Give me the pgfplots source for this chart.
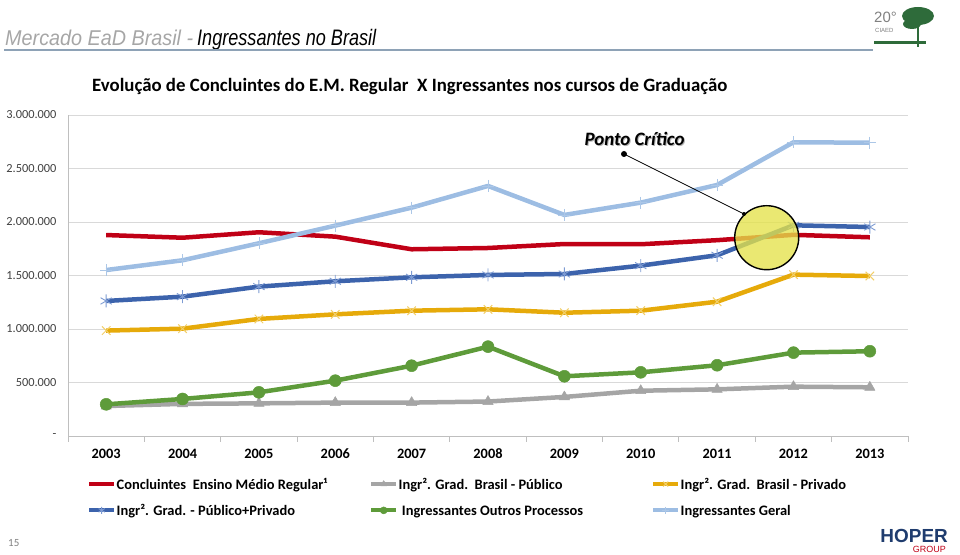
\documentclass[border=0pt]{standalone}
\usepackage{pgfplots}
\pgfplotsset{compat=1.18}
\usepackage{graphicx}
\usepackage{fontspec}
\setmainfont{Carlito}
\newfontfamily\arialf{Liberation Sans}
\definecolor{cRed}{HTML}{C00016}
\definecolor{cGray}{HTML}{A5A5A5}
\definecolor{cYel}{HTML}{E6AA0A}
\definecolor{cYelL}{HTML}{F2CF6A}
\definecolor{cBlue}{HTML}{3C63AC}
\definecolor{cBlueL}{HTML}{7D9BD3}
\definecolor{cGreen}{HTML}{5E9B3A}
\definecolor{cLBlue}{HTML}{9DBDE3}
\definecolor{gridgray}{HTML}{D9D9D9}
\definecolor{axgray}{HTML}{BFBFBF}
\definecolor{tickgray}{HTML}{404040}
\definecolor{hdrgray}{HTML}{A6A6A6}
\definecolor{hdrline}{HTML}{8EA2B6}
\definecolor{callY}{HTML}{E4E24A}
\definecolor{logoG}{HTML}{2E6B3A}
\definecolor{hoper}{HTML}{1F3C6E}

\begin{document}
\begin{tikzpicture}[x=1bp,y=1bp]
\useasboundingbox (0,0) rectangle (960,555);

% header
\node[anchor=base west, inner sep=0, font=\arialf\itshape\fontsize{21.5}{24}\selectfont, text=hdrgray]
  at (5,555-46) {\resizebox{188bp}{\height}{Mercado EaD Brasil -}};
\node[anchor=base west, inner sep=0, font=\arialf\itshape\fontsize{22.5}{24}\selectfont]
  at (197,555-46) {\resizebox{179bp}{\height}{Ingressantes no Brasil}};
\draw[hdrline, line width=1.2bp] (4,555-50) -- (873,555-50);
\node[anchor=base west, inner sep=0, font=\bfseries\fontsize{18.9}{21}\selectfont]
  at (92,555-92) {Evolução de Concluintes do E.M. Regular\ \ X Ingressantes nos cursos de Graduação};

% logo (approximation)
\node[anchor=west, inner sep=0, font=\arialf\fontsize{15}{16}\selectfont, text=gray] at (874,555-17) {20°};
\node[anchor=west, inner sep=0, font=\arialf\fontsize{6}{7}\selectfont, text=gray] at (875,555-30) {CIAED};
\fill[logoG] (918,555-16) ellipse (16 and 9);
\fill[logoG] (912,555-24) ellipse (9 and 5);
\draw[logoG, line width=2bp] (918,555-20) -- (918,555-47);
\fill[logoG] (874,555-41) rectangle (926,555-44);

% footer
\node[anchor=west, inner sep=0, font=\fontsize{11}{12}\selectfont, text=gray] at (8,555-543) {15};
\node[anchor=east, inner sep=0, font=\arialf\bfseries\fontsize{19}{20}\selectfont, text=hoper] at (948,555-536) {HOPER};
\node[anchor=east, inner sep=0, font=\arialf\fontsize{9}{10}\selectfont, text=cRed] at (946,555-549) {GROUP};

\begin{axis}[
  at={(68bp,119bp)}, anchor=south west,
  scale only axis, width=840bp, height=321bp,
  xmin=-0.5, xmax=10.5, ymin=0, ymax=3000000,
  axis lines=left,
  axis line style={-, draw=axgray, line width=0.9bp},
  scaled y ticks=false,
  ytick={0,500000,1000000,1500000,2000000,2500000,3000000},
  yticklabels={-,500.000,1.000.000,1.500.000,2.000.000,2.500.000,3.000.000},
  ymajorgrids, grid style={draw=gridgray, line width=0.9bp},
  xtick={0,1,2,3,4,5,6,7,8,9,10},
  xticklabels={2003,2004,2005,2006,2007,2008,2009,2010,2011,2012,2013},
  minor xtick={-0.5,0.5,1.5,2.5,3.5,4.5,5.5,6.5,7.5,8.5,9.5,10.5},
  major tick length=0pt, minor tick length=6bp, tick align=outside,
  minor tick style={draw=axgray, line width=0.9bp},
  yticklabel style={font=\fontsize{12.4}{14}\selectfont, text=tickgray, xshift=-8bp},
  xticklabel style={font=\bfseries\fontsize{14.4}{16}\selectfont, anchor=north,
    text height=9.2bp, text depth=0bp, yshift=-10bp},
  clip=false,
  legend columns=3,
  legend style={at={(0.0226,-0.122)}, anchor=north west, draw=none, fill=none,
    font=\bfseries\fontsize{14.5}{17}\selectfont, row sep=9bp, inner sep=0pt,
    nodes={inner xsep=0.5bp, inner ysep=2bp}},
  legend cell align=left,
  legend image code/.code={\draw[mark repeat=2,mark phase=2,mark size=3.5bp, line width=4bp] plot coordinates {(0bp,0bp) (12.5bp,0bp) (25bp,0bp)};},
  every axis plot/.append style={line width=4.5bp, line join=round},
]
\addplot[cRed, no marks] coordinates {(0,1878000) (1,1853000) (2,1904000) (3,1863000) (4,1745000) (5,1757000) (6,1794000) (7,1792000) (8,1830000) (9,1880000) (10,1857000)};
\addlegendentry{\makebox[252bp][l]{\strut Concluintes\ \ Ensino Médio Regular¹}}
\addplot[cGray, mark=triangle*, mark size=6bp, mark options={solid, line width=0.5bp, fill=cGray}] coordinates {(0,280000) (1,300000) (2,305000) (3,312000) (4,312000) (5,322000) (6,365000) (7,423000) (8,436000) (9,461000) (10,455000)};
\addlegendentry{\makebox[252bp][l]{\strut Ingr². Grad.\ \ Brasil - Público}}
\addplot[cYel, mark=x, mark size=6bp, mark options={solid, draw=cYelL, line width=1bp}] coordinates {(0,985000) (1,1003000) (2,1094000) (3,1137000) (4,1171000) (5,1184000) (6,1152000) (7,1171000) (8,1255000) (9,1508000) (10,1495000)};
\addlegendentry{\makebox[252bp][l]{\strut Ingr². Grad.\ \ Brasil - Privado}}
\addplot[cBlue, mark=asterisk, mark size=6.5bp, mark options={solid, draw=cBlueL, line width=0.9bp}] coordinates {(0,1262000) (1,1302000) (2,1396000) (3,1446000) (4,1483000) (5,1505000) (6,1514000) (7,1592000) (8,1689000) (9,1969000) (10,1953000)};
\addlegendentry{\makebox[252bp][l]{\strut Ingr². Grad. - Público+Privado}}
\addplot[cGreen, mark=*, mark size=6bp, mark options={solid, fill=cGreen, line width=0.5bp}] coordinates {(0,296000) (1,346000) (2,408000) (3,517000) (4,657000) (5,835000) (6,558000) (7,595000) (8,661000) (9,779000) (10,792000)};
\addlegendentry{\makebox[252bp][l]{\strut\ Ingressantes Outros Processos}}
\addplot[cLBlue, mark=+, mark size=6bp, mark options={solid, draw=cLBlue!85!white, line width=0.8bp}] coordinates {(0,1551000) (1,1642000) (2,1801000) (3,1966000) (4,2134000) (5,2337000) (6,2066000) (7,2181000) (8,2346000) (9,2745000) (10,2741000)};
\addlegendentry{\makebox[252bp][l]{\strut Ingressantes Geral}}
\end{axis}

% callout
\fill[callY, fill opacity=0.78] (766.7,555-237.7) circle (32);
\draw[black, line width=1.4bp] (766.7,555-237.7) circle (32);
\draw[black, line width=0.8bp] (624,555-154) -- (744,555-214);
\fill[black] (624,555-154) circle (3);
\fill[black] (744,555-214) circle (2);
\node[anchor=base, font=\bfseries\itshape\fontsize{19}{21}\selectfont, text=gray!60, inner sep=0] at (635.5,555-146.7) {Ponto Crítico};
\node[anchor=base, font=\bfseries\itshape\fontsize{19}{21}\selectfont, inner sep=0] at (634.5,555-145.7) {Ponto Crítico};
\end{tikzpicture}
\end{document}
